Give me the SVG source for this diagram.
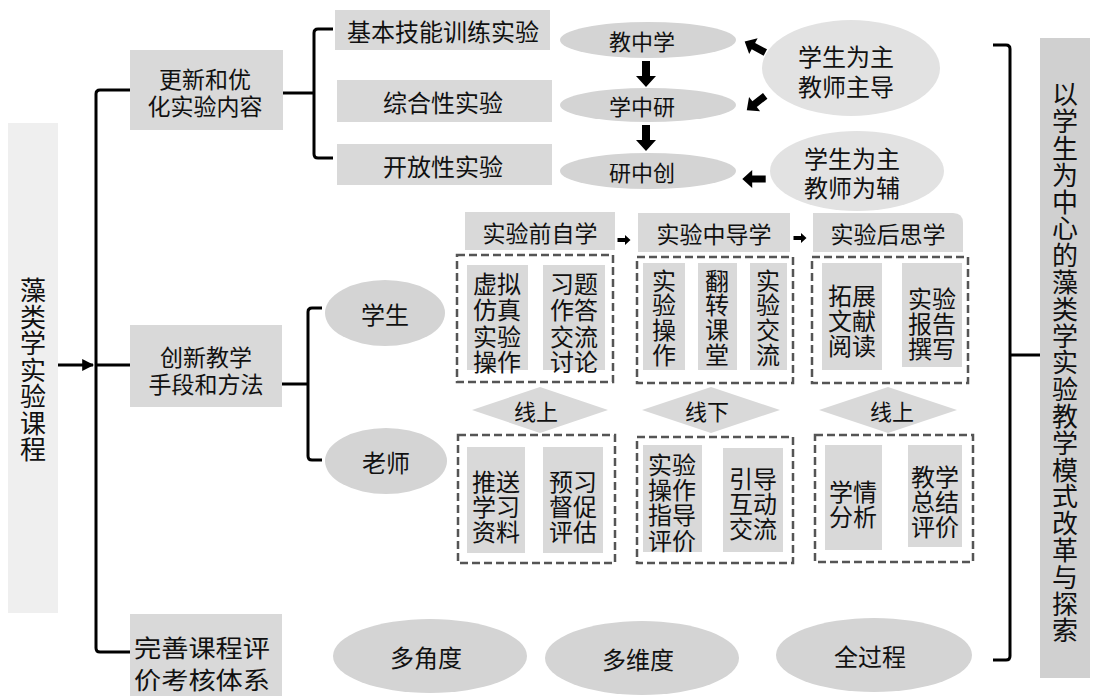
<svg xmlns="http://www.w3.org/2000/svg" width="1095" height="696" viewBox="0 0 1095 696">
<style>
text{font-family:"Noto Sans CJK SC","Liberation Sans",sans-serif;fill:#111;text-anchor:middle;dominant-baseline:central}
.v{writing-mode:vertical-rl}
.box{fill:#d9d9d9}
.lbox{fill:#efefef}
.ell{fill:#d4d4d4}
.bell{fill:#e2e2e2}
.dash{fill:none;stroke:#555;stroke-width:2.5;stroke-dasharray:8 4}
.ln{fill:none;stroke:#000;stroke-width:3;stroke-linejoin:round}
.t24{font-size:24px}.t23{font-size:23px}.t22{font-size:22px}.t26{font-size:26px}
</style>
<defs>
<path id="barrow" d="M-13,-4 L2,-4 L2,-10 L13,0 L2,10 L2,4 L-13,4 Z" fill="#000"/>
<marker id="ah" viewBox="0 0 10 10" refX="9" refY="5" markerWidth="4" markerHeight="4" orient="auto"><path d="M0,0 L10,5 L0,10 Z" fill="#000"/></marker>
</defs>

<g id="connectors">
<line class="ln" x1="58" y1="365" x2="93" y2="365" marker-end="url(#ah)"/>
<path class="ln" d="M130,90 H100 Q96,90 96,94 V648 Q96,652 100,652 H130"/>
<line class="ln" x1="96" y1="365" x2="130" y2="365"/>
<path class="ln" d="M333,29 H318 Q314,29 314,33 V154 Q314,158 318,158 H333"/>
<line class="ln" x1="283" y1="93" x2="314" y2="93"/>
<path class="ln" d="M322,308 H312 Q308,308 308,312 V456 Q308,460 312,460 H322"/>
<line class="ln" x1="282" y1="384" x2="308" y2="384"/>
<path class="ln" d="M993,45 H1006 Q1010,45 1010,49 V656 Q1010,660 1006,660 H993"/>
<line class="ln" x1="1010" y1="355" x2="1040" y2="355"/>
<use href="#barrow" transform="translate(646,74) rotate(90)"/>
<use href="#barrow" transform="translate(646,138) rotate(90)"/>
<use href="#barrow" transform="translate(755,47) rotate(-152) scale(0.9)"/>
<use href="#barrow" transform="translate(756,103) rotate(142) scale(0.9)"/>
<use href="#barrow" transform="translate(754,179) rotate(180) scale(0.9)"/>
<use href="#barrow" transform="translate(624,240) scale(0.5)"/>
<use href="#barrow" transform="translate(800,238) scale(0.5)"/>
</g>

<g id="n-course"><rect class="lbox" x="8" y="123" width="50" height="490"/>
<text class="t26 v" x="33" y="370" letter-spacing="0.5">藻类学实验课程</text></g>

<g id="n-update"><rect class="box" x="130" y="50" width="153" height="80"/>
<text class="t23"><tspan x="205" y="78">更新和优</tspan><tspan x="205" y="105">化实验内容</tspan></text></g>
<g id="n-basic"><rect class="box" x="335" y="10" width="215" height="40"/><text class="t24" x="443" y="30">基本技能训练实验</text></g>
<g id="n-comp"><rect class="box" x="337" y="80" width="215" height="42"/><text class="t24" x="443" y="101">综合性实验</text></g>
<g id="n-open"><rect class="box" x="337" y="144" width="215" height="41"/><text class="t24" x="443" y="165">开放性实验</text></g>

<g id="n-jzx"><ellipse class="ell" cx="648" cy="40" rx="88" ry="18"/><text class="t22" x="642" y="40">教中学</text></g>
<g id="n-xzy"><ellipse class="ell" cx="648" cy="105" rx="88" ry="17"/><text class="t22" x="642" y="105">学中研</text></g>
<g id="n-yzc"><ellipse class="ell" cx="648" cy="171" rx="88" ry="18"/><text class="t22" x="642" y="171">研中创</text></g>
<g id="n-lead"><ellipse class="bell" cx="851" cy="68" rx="89" ry="48"/><text class="t24"><tspan x="846" y="55">学生为主</tspan><tspan x="846" y="85">教师主导</tspan></text></g>
<g id="n-aux"><ellipse class="bell" cx="857" cy="171" rx="87" ry="40"/><text class="t24"><tspan x="852" y="157">学生为主</tspan><tspan x="852" y="186">教师为辅</tspan></text></g>

<g id="n-innov"><rect class="box" x="130" y="325" width="152" height="82"/>
<text class="t23"><tspan x="206" y="356">创新教学</tspan><tspan x="206" y="383">手段和方法</tspan></text></g>
<g id="n-student"><ellipse class="ell" cx="385" cy="313" rx="60" ry="33"/><text class="t24" x="385" y="313">学生</text></g>
<g id="n-teacher"><ellipse class="ell" cx="386" cy="461" rx="61" ry="33"/><text class="t24" x="386" y="461">老师</text></g>

<g id="n-pre"><rect class="box" x="465" y="212" width="150" height="38"/><text class="t23" x="540" y="232">实验前自学</text></g>
<g id="n-mid"><rect class="box" x="638" y="213" width="152" height="39"/><text class="t23" x="714" y="233">实验中导学</text></g>
<g id="n-post"><path class="box" d="M813,213 H953 Q963,213 963,223 V252 H813 Z"/><text class="t23" x="888" y="233">实验后思学</text></g>

<g id="n-s1"><rect class="dash" x="457" y="255" width="156" height="127"/>
<rect class="box" x="467" y="265" width="61" height="105"/><rect class="box" x="543" y="265" width="62" height="105"/>
<text class="t24"><tspan x="497" y="282">虚拟</tspan><tspan x="497" y="308">仿真</tspan><tspan x="497" y="335">实验</tspan><tspan x="497" y="360">操作</tspan></text>
<text class="t24"><tspan x="574" y="282">习题</tspan><tspan x="574" y="308">作答</tspan><tspan x="574" y="335">交流</tspan><tspan x="574" y="360">讨论</tspan></text></g>
<g id="n-s2"><rect class="dash" x="637" y="257" width="156" height="126"/>
<rect class="box" x="643" y="263" width="42" height="107"/><rect class="box" x="698" y="263" width="39" height="107"/><rect class="box" x="750" y="263" width="37" height="107"/>
<text class="t24 v" x="664" y="318" letter-spacing="0.7">实验操作</text>
<text class="t24 v" x="717" y="318" letter-spacing="0.7">翻转课堂</text>
<text class="t24 v" x="768" y="318" letter-spacing="0.7">实验交流</text></g>
<g id="n-s3"><rect class="dash" x="812" y="257" width="156" height="126"/>
<rect class="box" x="822" y="263" width="60" height="107"/><rect class="box" x="902" y="263" width="60" height="104"/>
<text class="t24"><tspan x="852" y="294">拓展</tspan><tspan x="852" y="319">文献</tspan><tspan x="852" y="344">阅读</tspan></text>
<text class="t24"><tspan x="932" y="297">实验</tspan><tspan x="932" y="322">报告</tspan><tspan x="932" y="347">撰写</tspan></text></g>

<g id="n-on1"><polygon class="box" points="472,410 540,387 608,410 540,433"/><text class="t22" x="536" y="410">线上</text></g>
<g id="n-off"><polygon class="box" points="642,410 711,387 780,410 711,433"/><text class="t22" x="707" y="410">线下</text></g>
<g id="n-on2"><polygon class="box" points="819,410 888,387 957,410 888,433"/><text class="t22" x="892" y="410">线上</text></g>

<g id="n-t1"><rect class="dash" x="458" y="435" width="157" height="128"/>
<rect class="box" x="467" y="447" width="58" height="106"/><rect class="box" x="543" y="447" width="60" height="106"/>
<text class="t24"><tspan x="496" y="480">推送</tspan><tspan x="496" y="505">学习</tspan><tspan x="496" y="530">资料</tspan></text>
<text class="t24"><tspan x="573" y="480">预习</tspan><tspan x="573" y="505">督促</tspan><tspan x="573" y="530">评估</tspan></text></g>
<g id="n-t2"><rect class="dash" x="637" y="437" width="156" height="126"/>
<rect class="box" x="643" y="445" width="59" height="107"/><rect class="box" x="723" y="448" width="60" height="104"/>
<text class="t24"><tspan x="672" y="463">实验</tspan><tspan x="672" y="488">操作</tspan><tspan x="672" y="513">指导</tspan><tspan x="672" y="539">评价</tspan></text>
<text class="t24"><tspan x="753" y="477">引导</tspan><tspan x="753" y="502">互动</tspan><tspan x="753" y="527">交流</tspan></text></g>
<g id="n-t3"><rect class="dash" x="815" y="435" width="158" height="127"/>
<rect class="box" x="825" y="445" width="57" height="105"/><rect class="box" x="908" y="445" width="54" height="102"/>
<text class="t24"><tspan x="853" y="490">学情</tspan><tspan x="853" y="515">分析</tspan></text>
<text class="t24"><tspan x="935" y="475">教学</tspan><tspan x="935" y="500">总结</tspan><tspan x="935" y="525">评价</tspan></text></g>

<g id="n-eval"><rect class="box" x="130" y="614" width="152" height="82"/>
<text class="t24"><tspan x="202" y="646" textLength="136" lengthAdjust="spacingAndGlyphs">完善课程评</tspan><tspan x="202" y="678" textLength="136" lengthAdjust="spacingAndGlyphs">价考核体系</tspan></text></g>
<g id="n-angle"><ellipse class="ell" cx="430" cy="656" rx="97" ry="37"/><text class="t24" x="426" y="656">多角度</text></g>
<g id="n-dim"><ellipse class="ell" cx="642" cy="658" rx="97" ry="37"/><text class="t24" x="638" y="658">多维度</text></g>
<g id="n-proc"><ellipse class="ell" cx="874" cy="655" rx="98" ry="37"/><text class="t24" x="870" y="655">全过程</text></g>

<g id="n-goal"><rect fill="#d0d0d0" x="1040" y="38" width="50" height="640"/>
<text class="t26 v" x="1065" y="363" letter-spacing="0.8">以学生为中心的藻类学实验教学模式改革与探索</text></g>
</svg>
